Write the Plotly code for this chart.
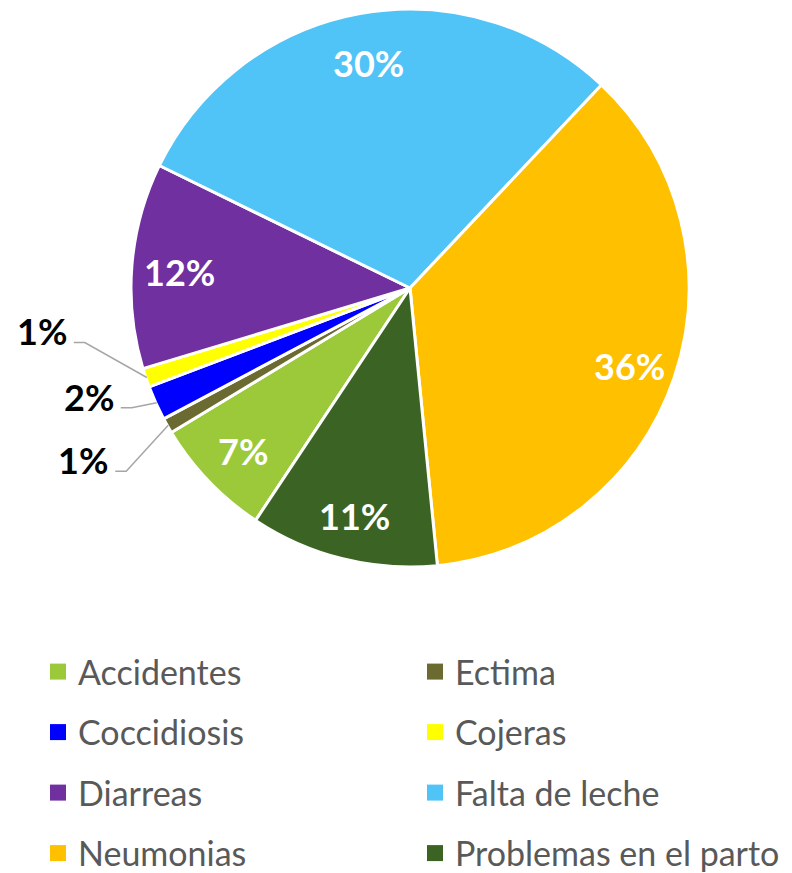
import math
import plotly.graph_objects as go

# ---- data ----
labels = ["Accidentes", "Ectima", "Coccidiosis", "Cojeras", "Diarreas",
          "Falta de leche", "Neumonias", "Problemas en el parto"]
values = [7.0, 0.9, 2.0, 1.1, 11.9, 29.8, 36.4, 10.9]
colors = ["#9BC93A", "#6B6A31", "#0000FF", "#FFFF00", "#7030A0",
          "#50C3F7", "#FFC000", "#3B6424"]
left_column = ["Accidentes", "Coccidiosis", "Diarreas", "Neumonias"]
right_column = ["Ectima", "Cojeras", "Falta de leche", "Problemas en el parto"]

# ---- layout constants ----
W, H = 792, 873
CX, CY, R = 410, 288, 279
ROT = 213.6
# offsets (px) of outside labels relative to their slice anchor
outside_offsets = {"Cojeras": (-105, -46), "Coccidiosis": (-68, -6), "Ectima": (-85, 35)}


def px2paper(x, y):
    return x / W, 1 - y / H


fig = go.Figure()
fig.add_trace(go.Pie(
    labels=labels, values=values, sort=False, direction="clockwise", rotation=ROT,
    marker=dict(colors=colors, line=dict(color="white", width=3)),
    textinfo="none", showlegend=False,
    domain=dict(x=[(CX - R) / W, (CX + R) / W], y=[1 - (CY + R) / H, 1 - (CY - R) / H]),
))

total = sum(values)
annotations = []
shapes = []
acc = 0.0
for lab, v in zip(labels, values):
    mid = ROT + (acc + v / 2) / total * 360
    acc += v
    pct = round(v / total * 100)
    th = math.radians(mid)
    if pct >= 5:
        r = 0.83 * R
        x, y = CX + r * math.sin(th), CY - r * math.cos(th) + 3
        px, py = px2paper(x, y)
        annotations.append(dict(x=px, y=py, xref="paper", yref="paper", showarrow=False,
                                text=f"<b>{pct}%</b>", xanchor="center", yanchor="middle",
                                font=dict(family="Lato", size=36, color="white")))
    else:
        ax, ay = CX + (R - 1) * math.sin(th), CY - (R - 1) * math.cos(th)
        dx, dy = outside_offsets[lab]
        lx, ly = ax + dx, ay + dy
        px, py = px2paper(lx, ly)
        annotations.append(dict(x=px, y=py, xref="paper", yref="paper", showarrow=False,
                                text=f"<b>{pct}%</b>", xanchor="center", yanchor="middle",
                                font=dict(family="Lato", size=36, color="black")))
        right = lx + 24
        bottom = ly + 11
        p0 = px2paper(right + 8, bottom)
        p1 = px2paper(right + 19, bottom)
        p2 = px2paper(ax, ay)
        shapes.append(dict(type="path", xref="paper", yref="paper",
                           path=f"M {p0[0]} {p0[1]} L {p1[0]} {p1[1]} L {p2[0]} {p2[1]}",
                           line=dict(color="#A6A6A6", width=1.5)))

# legend entries (two columns)
cmap = dict(zip(labels, colors))
for col, legname in ((left_column, "legend"), (right_column, "legend2")):
    for lab in col:
        fig.add_trace(go.Scatter(x=[None], y=[None], mode="markers", name=lab,
                                 legend=legname, legendgroup=lab, showlegend=True,
                                 marker=dict(symbol="square", size=16, color=cmap[lab]),
                                 hoverinfo="skip"))

legfont = dict(family="Lato", size=34, color="#595959")
fig.update_layout(
    width=W, height=H, margin=dict(l=0, r=0, t=0, b=0, autoexpand=False),
    paper_bgcolor="white", plot_bgcolor="white",
    xaxis=dict(visible=False), yaxis=dict(visible=False),
    annotations=annotations, shapes=shapes,
    legend=dict(x=38 / W, y=1 - 643 / H, xanchor="left", yanchor="top",
                tracegroupgap=13.3, font=legfont, bgcolor="rgba(0,0,0,0)"),
    legend2=dict(x=415 / W, y=1 - 643 / H, xanchor="left", yanchor="top",
                 tracegroupgap=13.3, font=legfont, bgcolor="rgba(0,0,0,0)"),
)

fig.write_html("out.html", config={"displayModeBar": False},
               post_script="document.body.style.margin='0px';")
